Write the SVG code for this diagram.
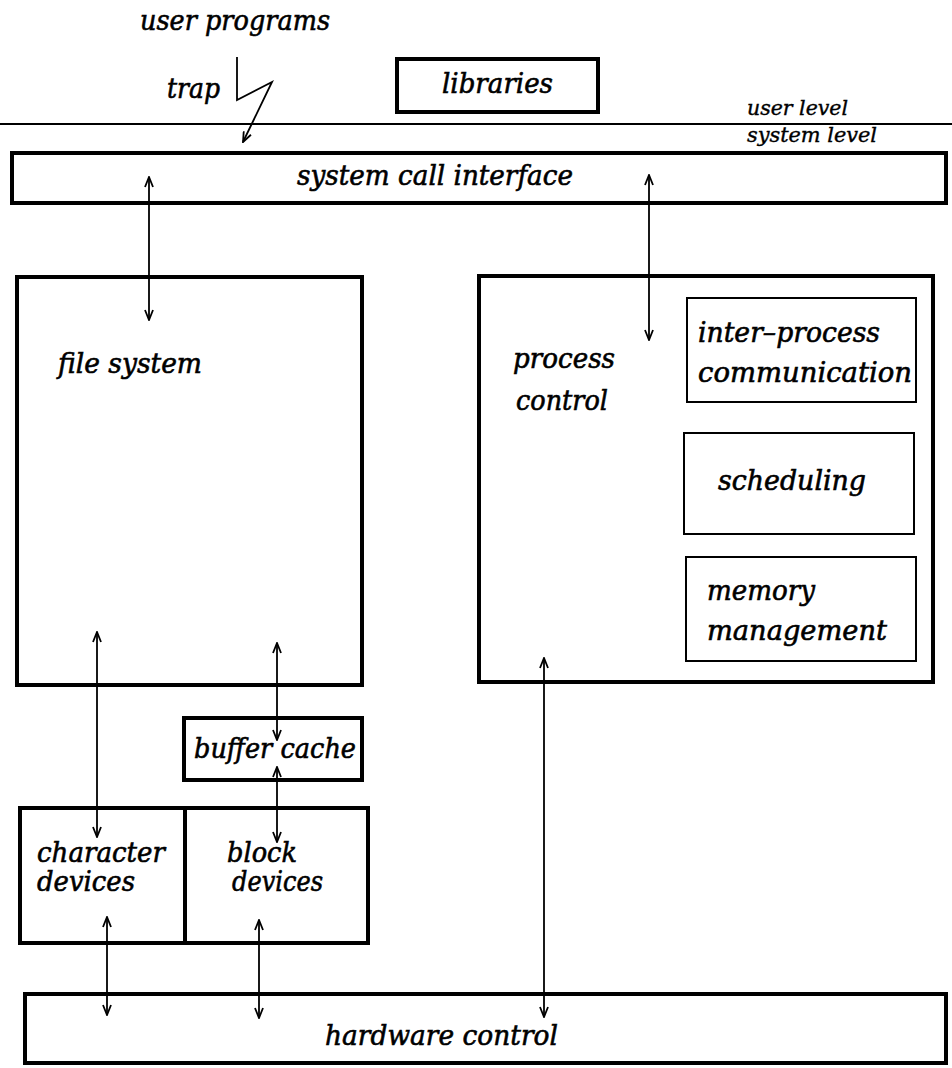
<svg xmlns="http://www.w3.org/2000/svg" width="952" height="1068" viewBox="0 0 952 1068">
<style>
  .t { font-family: "DejaVu Serif", "Liberation Serif", serif; font-style: italic; font-size: 27px; fill: #000; stroke: #000; stroke-width: 0.6; }
  .s { font-size: 21px; stroke-width: 0.4; }
  .box { fill: none; stroke: #000; stroke-width: 4; }
  .thin { fill: none; stroke: #000; stroke-width: 2; }
  .c { fill: none; stroke: #000; stroke-width: 1.8; }
</style>
<defs>
  <marker id="ah" viewBox="0 0 12 10" markerWidth="12" markerHeight="10" refX="11" refY="5" orient="auto-start-reverse" markerUnits="userSpaceOnUse">
    <path d="M1,1 L11,5 L1,9" fill="none" stroke="#000" stroke-width="1.8"/>
  </marker>
</defs>
<rect x="0" y="0" width="952" height="1068" fill="#fff"/>

<g id="user-programs">
  <text class="t" x="140" y="30" textLength="190" lengthAdjust="spacingAndGlyphs">user programs</text>
</g>
<g id="trap">
  <text class="t" x="167" y="98" textLength="53" lengthAdjust="spacingAndGlyphs">trap</text>
</g>
<g id="libraries">
  <rect class="box" x="397" y="59" width="201" height="53"/>
  <text class="t" x="442" y="93" textLength="111" lengthAdjust="spacingAndGlyphs">libraries</text>
</g>
<g id="level-line">
  <line x1="0" y1="124" x2="952" y2="124" stroke="#000" stroke-width="2"/>
  <text class="t s" x="747" y="115" textLength="101" lengthAdjust="spacingAndGlyphs">user level</text>
  <text class="t s" x="747" y="142" textLength="130" lengthAdjust="spacingAndGlyphs">system level</text>
</g>
<g id="system-call-interface">
  <rect class="box" x="12" y="153" width="934" height="50"/>
  <text class="t" x="297" y="185" textLength="276" lengthAdjust="spacingAndGlyphs">system call interface</text>
</g>
<g id="file-system">
  <rect class="box" x="17" y="277" width="345" height="408"/>
  <text class="t" x="58" y="373" textLength="144" lengthAdjust="spacingAndGlyphs">file system</text>
</g>
<g id="process-control">
  <rect class="box" x="479" y="276" width="454" height="406"/>
  <text class="t" x="513" y="368" textLength="102" lengthAdjust="spacingAndGlyphs">process</text>
  <text class="t" x="516" y="410" textLength="92" lengthAdjust="spacingAndGlyphs">control</text>
</g>
<g id="ipc">
  <rect class="thin" x="687" y="298" width="229" height="104"/>
  <text class="t" x="698" y="342" textLength="182" lengthAdjust="spacingAndGlyphs">inter–process</text>
  <text class="t" x="698" y="382" textLength="214" lengthAdjust="spacingAndGlyphs">communication</text>
</g>
<g id="scheduling">
  <rect class="thin" x="684" y="433" width="230" height="101"/>
  <text class="t" x="718" y="490" textLength="148" lengthAdjust="spacingAndGlyphs">scheduling</text>
</g>
<g id="memory-management">
  <rect class="thin" x="686" y="557" width="230" height="104"/>
  <text class="t" x="707" y="600" textLength="108" lengthAdjust="spacingAndGlyphs">memory</text>
  <text class="t" x="707" y="640" textLength="180" lengthAdjust="spacingAndGlyphs">management</text>
</g>
<g id="buffer-cache">
  <rect class="box" x="184" y="718" width="178" height="62"/>
  <text class="t" x="194" y="758" textLength="162" lengthAdjust="spacingAndGlyphs">buffer cache</text>
</g>
<g id="character-devices">
  <rect class="box" x="20" y="808" width="165" height="135"/>
  <text class="t" x="37" y="862" textLength="128" lengthAdjust="spacingAndGlyphs">character</text>
  <text class="t" x="37" y="891" textLength="98" lengthAdjust="spacingAndGlyphs">devices</text>
</g>
<g id="block-devices">
  <rect class="box" x="185" y="808" width="183" height="135"/>
  <text class="t" x="227" y="862" textLength="70" lengthAdjust="spacingAndGlyphs">block</text>
  <text class="t" x="232" y="891" textLength="91" lengthAdjust="spacingAndGlyphs">devices</text>
</g>
<g id="hardware-control">
  <rect class="box" x="25" y="994" width="921" height="69"/>
  <text class="t" x="325" y="1045" textLength="233" lengthAdjust="spacingAndGlyphs">hardware control</text>
</g>

<g id="connectors">
  <polyline class="c" points="237,57 237,100 272,82 243,142" marker-end="url(#ah)"/>
  <line class="c" x1="149" y1="177" x2="149" y2="320" marker-start="url(#ah)" marker-end="url(#ah)"/>
  <line class="c" x1="649" y1="175" x2="649" y2="340" marker-start="url(#ah)" marker-end="url(#ah)"/>
  <line class="c" x1="97" y1="632" x2="97" y2="837" marker-start="url(#ah)" marker-end="url(#ah)"/>
  <line class="c" x1="277" y1="643" x2="277" y2="740" marker-start="url(#ah)" marker-end="url(#ah)"/>
  <line class="c" x1="277" y1="767" x2="277" y2="842" marker-start="url(#ah)" marker-end="url(#ah)"/>
  <line class="c" x1="107" y1="917" x2="107" y2="1015" marker-start="url(#ah)" marker-end="url(#ah)"/>
  <line class="c" x1="259" y1="920" x2="259" y2="1018" marker-start="url(#ah)" marker-end="url(#ah)"/>
  <line class="c" x1="544" y1="658" x2="544" y2="1017" marker-start="url(#ah)" marker-end="url(#ah)"/>
</g>
</svg>
